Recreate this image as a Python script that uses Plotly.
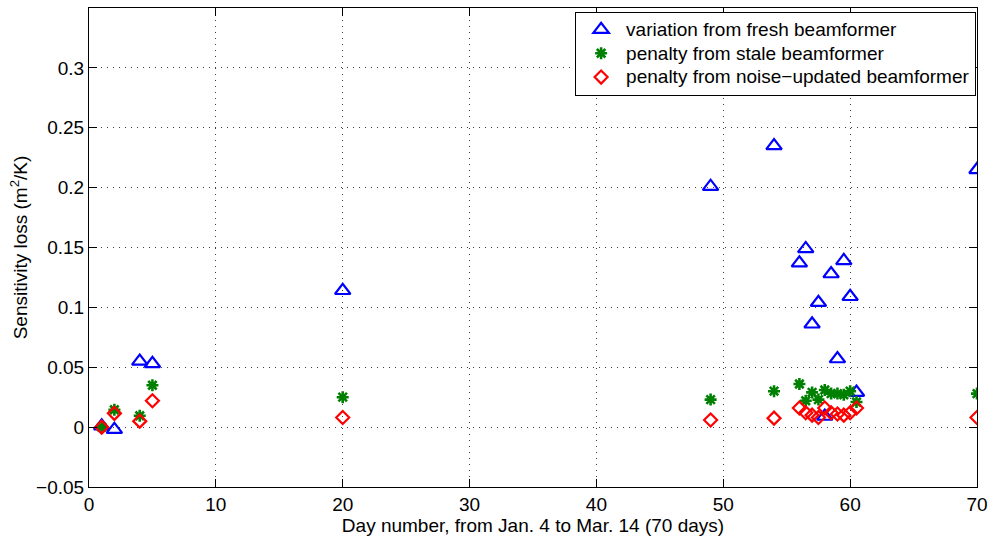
import plotly.graph_objects as go

# Observation days (day 1 = Jan. 4)
days = [1, 2, 4, 5, 20, 49, 54, 56, 56.5, 57, 57.5, 58, 58.5, 59, 59.5, 60, 60.5, 70]

# Sensitivity loss in m^2/K
fresh_variation = [0.001, -0.002, 0.055, 0.053, 0.114, 0.201, 0.235, 0.137, 0.149, 0.086,
                   0.104, 0.009, 0.128, 0.057, 0.139, 0.109, 0.029, 0.215]
stale_penalty = [0.0, 0.0145, 0.0095, 0.035, 0.025, 0.023, 0.030, 0.036, 0.022, 0.029,
                 0.023, 0.031, 0.028, 0.028, 0.027, 0.030, 0.021, 0.028]
noise_updated_penalty = [0.0, 0.0115, 0.005, 0.022, 0.008, 0.006, 0.0075, 0.016, 0.012, 0.010,
                         0.008, 0.016, 0.012, 0.011, 0.010, 0.012, 0.016, 0.008]

series_names = ["variation from fresh beamformer",
                "penalty from stale beamformer",
                "penalty from noise\u2212updated beamformer"]

x_ticks = [0, 10, 20, 30, 40, 50, 60, 70]
y_ticks = [-0.05, 0, 0.05, 0.1, 0.15, 0.2, 0.25, 0.3]
y_tick_labels = ["\u22120.05", "0", "0.05", "0.1", "0.15", "0.2", "0.25", "0.3"]

FONT = "Liberation Sans, Arial, Helvetica, sans-serif"
FS = 19


def legend_label(text):
    # full-size text inside a legend laid out with a tighter row pitch
    return f"<span style='font-size:{FS}px'>{text}</span>"


fig = go.Figure()
fig.add_trace(go.Scatter(
    x=days, y=fresh_variation, mode="markers",
    name=legend_label(series_names[0]),
    marker=dict(symbol="triangle-up-open", size=13.5, color="#0000ff",
                line=dict(width=2.2, color="#0000ff")),
))
fig.add_trace(go.Scatter(
    x=days, y=stale_penalty, mode="markers",
    name=legend_label(series_names[1]),
    marker=dict(symbol="asterisk-open", size=10, color="#008000",
                line=dict(width=2.6, color="#008000")),
))
fig.add_trace(go.Scatter(
    x=days, y=noise_updated_penalty, mode="markers",
    name=legend_label(series_names[2]),
    marker=dict(symbol="diamond-open", size=10, color="#ff0000",
                line=dict(width=2.2, color="#ff0000")),
))

grid = dict(showgrid=True, gridcolor="rgba(0,0,0,0.75)", gridwidth=1, griddash="1px,5px",
            zeroline=False, showline=True, linecolor="black", linewidth=1,
            mirror="ticks", ticks="inside", ticklen=8, tickcolor="black", tickwidth=1,
            tickfont=dict(family=FONT, size=FS, color="black"))

fig.update_xaxes(range=[0, 70], tickvals=x_ticks, ticktext=[str(v) for v in x_ticks],
                 title=dict(text="Day number, from Jan. 4 to Mar. 14 (70 days)",
                            font=dict(family=FONT, size=FS, color="black"), standoff=0),
                 **grid)
fig.update_yaxes(range=[-0.05, 0.35], tickvals=y_ticks, ticktext=y_tick_labels,
                 title=dict(text="Sensitivity loss (m<sup>2</sup>/K)",
                            font=dict(family=FONT, size=FS, color="black"), standoff=3),
                 **grid)

fig.update_layout(
    width=995, height=538,
    margin=dict(l=89, r=13, t=7, b=51),
    paper_bgcolor="white", plot_bgcolor="white",
    font=dict(family=FONT, size=FS, color="black"),
    showlegend=True,
    legend=dict(x=0.999, y=0.9925, xanchor="right", yanchor="top",
                bgcolor="white", bordercolor="black", borderwidth=1,
                font=dict(family=FONT, size=16, color="black"),
                itemwidth=40, tracegroupgap=0),
)

fig.write_html("out.html", config={"displayModeBar": False})
